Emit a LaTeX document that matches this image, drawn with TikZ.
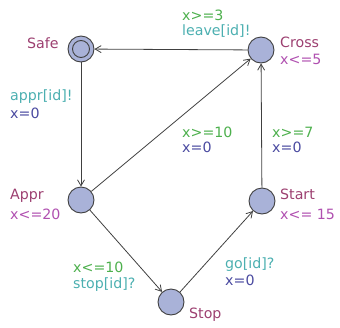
\documentclass[tikz,border=0pt]{standalone}
\usepackage{fontspec}
\setmainfont{DejaVu Sans}
\usetikzlibrary{arrows.meta}
\definecolor{locfill}{HTML}{A9B2D8}
\definecolor{locname}{HTML}{9C3F70}
\definecolor{invc}{HTML}{B050B0}
\definecolor{guardc}{HTML}{4DB04D}
\definecolor{syncc}{HTML}{4BAFB0}
\definecolor{updc}{HTML}{4A4AA0}
\definecolor{edgec}{HTML}{404040}
\tikzset{
  loc/.style={circle,draw=edgec,fill=locfill,line width=0.9pt,minimum size=26pt,inner sep=0pt},
  txt/.style={font=\fontsize{14.2}{16}\selectfont,inner sep=0pt,anchor=base west},
  edge/.style={draw=edgec,line width=0.8pt,-{Straight Barb[length=6pt,width=7pt]}},
}
\begin{document}
\begin{tikzpicture}[x=1pt,y=-1pt]
\useasboundingbox (0,0) rectangle (340,327);
\node[loc] (safe) at (81,49) {};
\draw[edgec,line width=0.9pt] (safe.center) circle (8.5pt);
\node[loc] (cross) at (261,50) {};
\node[loc] (appr) at (81,200) {};
\node[loc] (start) at (262,201) {};
\node[loc] (stop) at (171,302) {};
\draw[edge] (cross) -- (safe);
\draw[edge] (safe) -- (appr);
\draw[edge] (appr) -- (cross);
\draw[edge] (appr) -- (stop);
\draw[edge] (stop) -- (start);
\draw[edge] (start) -- (cross);
% location names
\node[txt,text=locname] (n1) at (27,48) {Safe};
\node[txt,text=locname] (n2) at (280,47) {Cross};
\node[txt,text=invc] (i2) at (280,64) {x<=5};
\node[txt,text=locname] (n3) at (10,199) {Appr};
\node[txt,text=invc] (i3) at (10,219) {x<=20};
\node[txt,text=locname] (n4) at (280,199) {Start};
\node[txt,text=invc] (i4) at (280,219) {x<= 15};
\node[txt,text=locname] (n5) at (189,318) {Stop};
% edge labels
\node[txt,text=syncc] (l1) at (10,100) {appr[id]!};
\node[txt,text=updc] (l2) at (10,118) {x=0};
\node[txt,text=guardc] (l3) at (182,20) {x>=3};
\node[txt,text=syncc] (l4) at (182,35) {leave[id]!};
\node[txt,text=guardc] (l5) at (182,137) {x>=10};
\node[txt,text=updc] (l6) at (182,152) {x=0};
\node[txt,text=guardc] (l7) at (272,137) {x>=7};
\node[txt,text=updc] (l8) at (272,152) {x=0};
\node[txt,text=guardc] (l9) at (73,272) {x<=10};
\node[txt,text=syncc] (l10) at (73,288) {stop[id]?};
\node[txt,text=syncc] (l11) at (225,268) {go[id]?};
\node[txt,text=updc] (l12) at (225,285) {x=0};
\end{tikzpicture}
\end{document}
